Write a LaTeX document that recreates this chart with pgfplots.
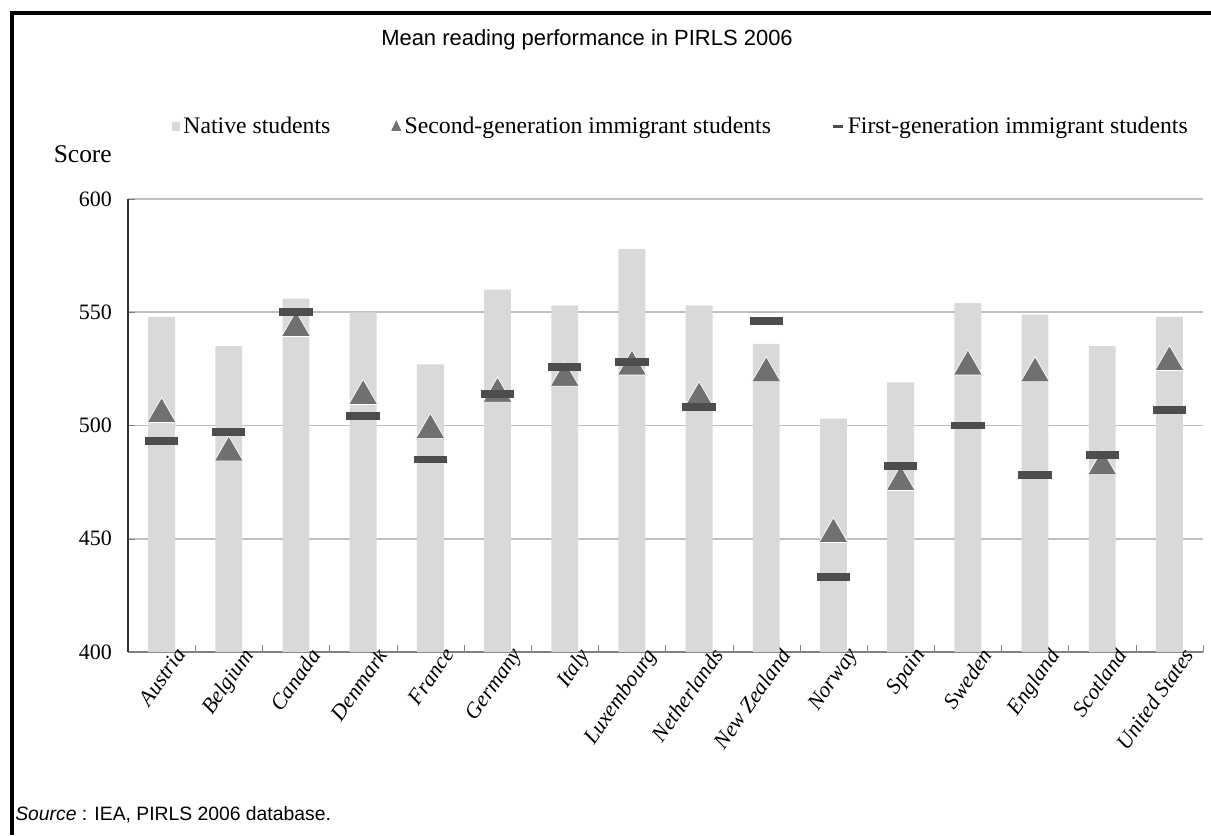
\documentclass[border=0pt]{standalone}
\usepackage{pgfplots}
\pgfplotsset{compat=1.18}
\usepackage{fontspec}
\setmainfont{Liberation Serif}
\newfontfamily\arial{Liberation Sans}

\definecolor{barfill}{HTML}{D9D9D9}
\definecolor{trigray}{HTML}{707070}
\definecolor{dashgray}{HTML}{4D4D4D}
\definecolor{gridgray}{HTML}{BFBFBF}

\begin{document}
\begin{tikzpicture}
% picture = reference pixels x 0.02cm (1211 x 835)
\path[use as bounding box] (0cm,0cm) rectangle (24.22cm,16.70cm);
\draw[line width=2.2pt] (0.24cm,0cm) -- (0.24cm,16.44cm) -- (24.22cm,16.44cm);

\begin{axis}[
    at={(2.56cm,3.66cm)}, anchor=south west,
    scale only axis, width=21.5cm, height=9.06cm,
    xmin=-0.5, xmax=15.5,
    ymin=400, ymax=600,
    ytick={400,450,...,600},
    xtick={0,...,15},
    xticklabels={Austria,Belgium,Canada,Denmark,France,Germany,Italy,Luxembourg,Netherlands,New Zealand,Norway,Spain,Sweden,England,Scotland,United States},
    x tick label style={rotate=55, anchor=north east, font=\itshape\fontsize{12.5}{12.5}\selectfont, inner sep=1pt, xshift=8pt, yshift=-3pt},
    y tick label style={font=\fontsize{12.5}{12.5}\selectfont, xshift=-0.2cm},
    /pgf/number format/assume math mode=true,
    major x tick style={draw=none},
    minor xtick={-0.5,0.5,...,15.5},
    minor x tick style={gray},
    minor tick length=4pt,
    major y tick style={gray},
    major tick length=4pt,
    ymajorgrids, grid style={gridgray, line width=1pt},
    axis x line*=bottom, axis y line*=left,
    x axis line style={gray, line width=1pt},
    y axis line style={black!80, line width=0.8pt},
    ylabel={Score},
    ylabel style={rotate=-90, at={(rel axis cs:0,1)}, anchor=south east, yshift=0.6cm, xshift=-0.2cm, font=\fontsize{14.5}{14.5}\selectfont},
    legend columns=-1,
    legend style={at={(0.515,1.16)}, anchor=center, draw=none, fill=none,
        font=\fontsize{13.5}{13.5}\selectfont,
        /tikz/every even column/.append style={column sep=1.15cm},
        inner sep=0pt},
    clip=false,
]
% Native students
\addplot[ybar, bar width=0.4, fill=barfill, draw=none,
    legend image code/.code={\fill[barfill] (0cm,-0.08cm) rectangle (0.16cm,0.1cm);}]
    coordinates {(0,548) (1,535) (2,556) (3,550) (4,527) (5,560) (6,553) (7,578)
                 (8,553) (9,536) (10,503) (11,519) (12,554) (13,549) (14,535) (15,548)};
% Second-generation immigrant students
\addplot[only marks, mark=triangle*, mark size=9.5pt, mark options={fill=trigray, draw=white, line width=0.4pt},
    legend image code/.code={\fill[trigray] (0cm,-0.08cm) -- (0.18cm,-0.08cm) -- (0.09cm,0.11cm) -- cycle;}]
    coordinates {(0,505) (1,488) (2,543) (3,513) (4,498) (5,514) (6,521) (7,526)
                 (8,512) (9,523) (10,452) (11,475) (12,526) (13,523) (14,482) (15,528)};
% First-generation immigrant students
\addplot[only marks, mark=-, mark size=9.5pt, mark options={draw=dashgray, line width=4.5pt},
    legend image code/.code={\draw[dashgray, line width=1.3pt] (0cm,0cm) -- (0.2cm,0cm);}]
    coordinates {(0,493) (1,497) (2,550) (3,504) (4,485) (5,514) (6,526) (7,528)
                 (8,508) (9,546) (10,433) (11,482) (12,500) (13,478) (14,487) (15,507)};
\legend{Native students, Second-generation immigrant students, First-generation immigrant students}
\end{axis}

\node[font=\arial\fontsize{12.5}{12.5}\selectfont] at (11.74cm,15.9cm) {Mean reading performance in PIRLS 2006};
\node[anchor=west, font=\arial\fontsize{11}{11}\selectfont, inner sep=0pt] at (0.30cm,0.4cm) {\textit{Source}~: IEA, PIRLS 2006 database.};
\end{tikzpicture}
\end{document}
